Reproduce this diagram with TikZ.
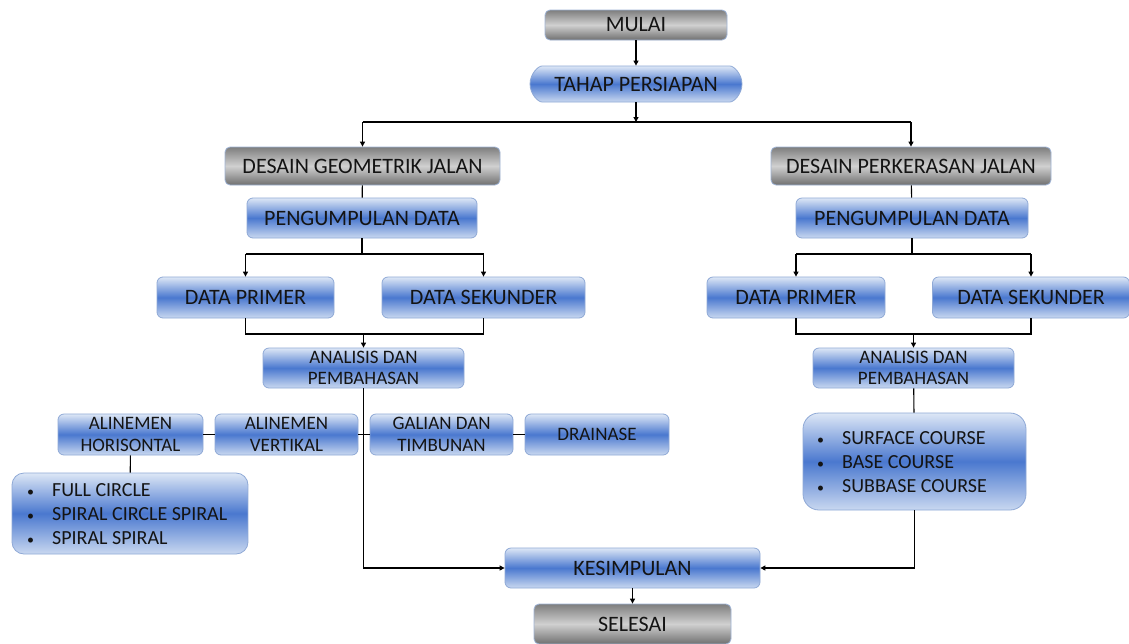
\documentclass[tikz,border=0pt]{standalone}
\usepackage{fontspec}
\setmainfont{Carlito}
\usetikzlibrary{arrows.meta,shapes.misc}
\definecolor{blT}{HTML}{DDE7F6}
\definecolor{blM}{HTML}{4A78CF}
\definecolor{blB}{HTML}{C9D8F0}
\definecolor{blD}{HTML}{8FA9D6}
\definecolor{grT}{HTML}{7E7E7E}
\definecolor{grM}{HTML}{D0D0D0}
\definecolor{grB}{HTML}{707070}
\definecolor{grD}{HTML}{9FB4D6}
\definecolor{txt}{HTML}{141414}
\tikzset{
  box/.style={draw=blD, line width=0.8pt, rounded corners=6pt, top color=blT, bottom color=blB, middle color=blM, inner sep=0pt, text=txt, align=center, font=\fontsize{22}{23}\selectfont},
  gbox/.style={draw=grD, line width=0.8pt, rounded corners=5pt, top color=grT, bottom color=grB, middle color=grM, inner sep=0pt, text=txt, align=center, font=\fontsize{22}{23}\selectfont},
  small/.style={font=\fontsize{19}{21.5}\selectfont},
  lst/.style={font=\fontsize{20}{24}\selectfont},
  conn/.style={line width=1.1pt, black},
  arr/.style={conn, -{Triangle[length=5pt,width=5pt]}}
}
\begin{document}
\begin{tikzpicture}[x=1pt,y=-1pt]
\useasboundingbox[fill=white] (0,0) rectangle (1129,643);
% top
\node[gbox, minimum width=182pt, minimum height=30pt] (mulai) at (636,25) {MULAI};
\node[box, rounded rectangle, rounded rectangle arc length=180, minimum width=212pt, minimum height=36pt] (tahap) at (636,84) {TAHAP PERSIAPAN};
\node[gbox, minimum width=275pt, minimum height=38pt] (dgj) at (362.5,166) {DESAIN GEOMETRIK JALAN};
\node[gbox, minimum width=280pt, minimum height=38pt] (dpj) at (911,166) {DESAIN PERKERASAN JALAN};
% left branch
\node[box, minimum width=230pt, minimum height=40pt] (pdl) at (362,218) {PENGUMPULAN DATA};
\node[box, minimum width=177pt, minimum height=41pt] (dprl) at (245.5,297.5) {DATA PRIMER};
\node[box, minimum width=203pt, minimum height=41pt] (dskl) at (483.5,297.5) {DATA SEKUNDER};
\node[box, small, minimum width=201pt, minimum height=40pt] (anl) at (363.5,368) {ANALISIS DAN\\PEMBAHASAN};
% right branch
\node[box, minimum width=232pt, minimum height=40pt] (pdr) at (912,218) {PENGUMPULAN DATA};
\node[box, minimum width=178pt, minimum height=41pt] (dprr) at (796,297.5) {DATA PRIMER};
\node[box, minimum width=197pt, minimum height=41pt] (dskr) at (1031,297.5) {DATA SEKUNDER};
\node[box, small, minimum width=201pt, minimum height=40pt] (anr) at (913.5,368) {ANALISIS DAN\\PEMBAHASAN};
% row of four
\node[box, small, minimum width=145pt, minimum height=41pt] (ah) at (130.5,434.5) {ALINEMEN\\HORISONTAL};
\node[box, small, minimum width=143pt, minimum height=41pt] (av) at (286.5,434.5) {ALINEMEN\\VERTIKAL};
\node[box, small, minimum width=143pt, minimum height=41pt] (gt) at (441.5,434.5) {GALIAN DAN\\TIMBUNAN};
\node[box, small, minimum width=144pt, minimum height=41pt] (dr) at (597,434.5) {DRAINASE};
% lists
\node[box, rounded corners=12pt, minimum width=236pt, minimum height=81pt] (fc) at (130,513.5) {};
\node[lst, text=txt, anchor=west, align=left, inner sep=0pt] (fct) at (27,515.5)
  {\begin{tabular}{@{}l@{\hspace{18pt}}l@{}}\scalebox{0.7}{•}&FULL CIRCLE\\\scalebox{0.7}{•}&SPIRAL CIRCLE SPIRAL\\\scalebox{0.7}{•}&SPIRAL SPIRAL\end{tabular}};
\node[box, rounded corners=16pt, minimum width=223pt, minimum height=97pt] (sc) at (914.5,461.5) {};
\node[lst, text=txt, anchor=west, align=left, inner sep=0pt] (sct) at (817,464)
  {\begin{tabular}{@{}l@{\hspace{18pt}}l@{}}\scalebox{0.7}{•}&SURFACE COURSE\\\scalebox{0.7}{•}&BASE COURSE\\\scalebox{0.7}{•}&SUBBASE COURSE\end{tabular}};
% bottom
\node[box, minimum width=255pt, minimum height=40pt] (kes) at (632.5,568) {KESIMPULAN};
\node[gbox, minimum width=197pt, minimum height=40pt] (sel) at (632.5,624) {SELESAI};
% connectors
\coordinate (sp) at (636,122);
\draw[arr] (mulai) -- (tahap);
\draw[arr] (tahap) -- (sp);
\draw[conn] (dgj.north |- sp) -- (dpj.north |- sp);
\draw[arr] (dgj.north |- sp) -- (dgj.north);
\draw[arr] (dpj.north |- sp) -- (dpj.north);
\draw[conn] (dgj) -- (pdl);
\draw[conn] (dpj) -- (pdr);
% left split
\coordinate (sl) at (362,254);
\draw[conn] (pdl.south) -- (sl);
\draw[conn] (dprl.north |- sl) -- (dskl.north |- sl);
\draw[arr] (dprl.north |- sl) -- (dprl.north);
\draw[arr] (dskl.north |- sl) -- (dskl.north);
\coordinate (jl) at (363.5,334);
\draw[conn] (dprl.south) -- (dprl.south |- jl) -- (dskl.south |- jl) -- (dskl.south);
\draw[arr] (jl) -- (anl.north);
% right split
\coordinate (sr) at (912,254);
\draw[conn] (pdr.south) -- (sr);
\draw[conn] (dprr.north |- sr) -- (dskr.north |- sr);
\draw[arr] (dprr.north |- sr) -- (dprr.north);
\draw[arr] (dskr.north |- sr) -- (dskr.north);
\coordinate (jr) at (913.5,334);
\draw[conn] (dprr.south) -- (dprr.south |- jr) -- (dskr.south |- jr) -- (dskr.south);
\draw[arr] (jr) -- (anr.north);
% row connectors
\draw[conn] (ah) -- (av);
\draw[conn] (av) -- (gt);
\draw[conn] (gt) -- (dr);
\draw[conn] (ah) -- (fc);
\draw[conn] (anr) -- (sc);
% to kesimpulan
\draw[arr] (anl.south) -- (anl.south |- kes.west) -- (kes.west);
\draw[arr] (sc.south) -- (sc.south |- kes.east) -- (kes.east);
\draw[arr] (kes) -- (sel);
\end{tikzpicture}
\end{document}
